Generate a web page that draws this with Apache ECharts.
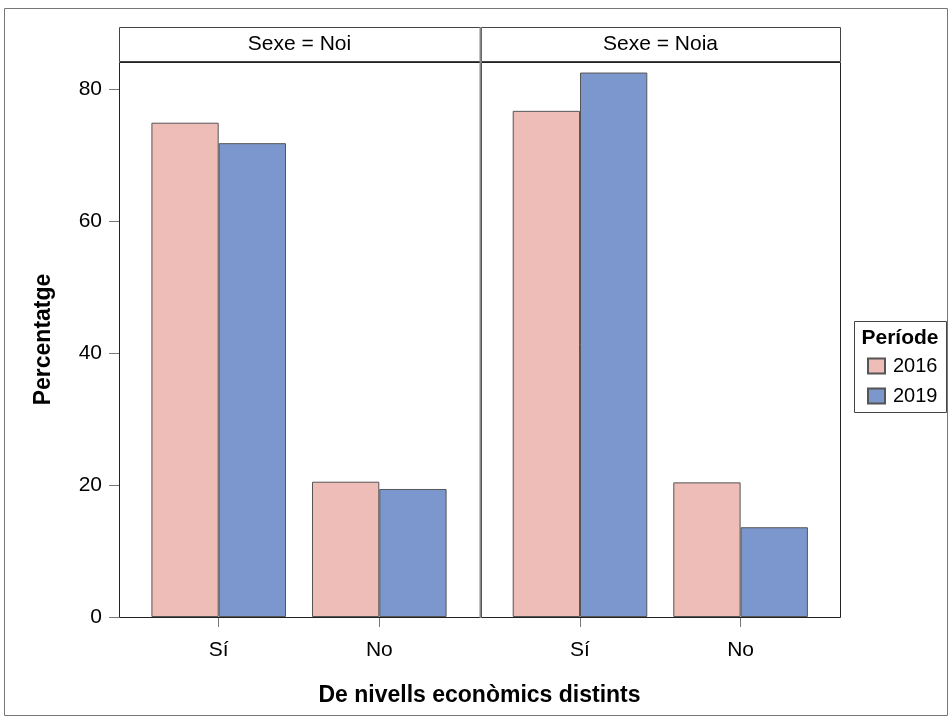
<!DOCTYPE html>
<html>
<head>
<meta charset="utf-8">
<script src="https://cdn.jsdelivr.net/npm/echarts@6/dist/echarts.min.js"></script>
<style>
html,body{margin:0;padding:0;background:#fff;}
#chart{width:952px;height:720px;}
</style>
</head>
<body>
<div id="chart"></div>
<script>
// ---- data ----
const categories = ['Sí', 'No'];
const panels = ['Sexe = Noi', 'Sexe = Noia'];
const periods = ['2016', '2019'];
const noi2016 = [74.9, 20.5];
const noi2019 = [71.8, 19.4];
const noia2016 = [76.7, 20.4];
const noia2019 = [82.5, 13.6];
const yTicks = [0, 20, 40, 60, 80];

const FONT = '"Liberation Sans", Arial, sans-serif';
const PINK = '#EFBDB7';
const BLUE = '#7C97CD';
const BORDER = '#555555';

// layout
const panelTop = 62, panelBottom = 617;
const panelL = [119, 481], panelR = [480, 840];
const dataL = [138.4, 499.7], dataW = 321.2;
const yMax = 84.1;

const chart = echarts.init(document.getElementById('chart'), null, {renderer: 'canvas'});

function xAxisCfg(i) {
  return {
    type: 'category', gridIndex: i, data: categories,
    axisLine: {show: false},
    axisTick: {show: true, alignWithLabel: true, length: 10, lineStyle: {color: '#777', width: 1}},
    axisLabel: {color: '#000', fontSize: 21, fontFamily: FONT, margin: 23}
  };
}
function yAxisCfg(i) {
  return {
    type: 'value', gridIndex: i, min: 0, max: yMax, interval: 20,
    show: i === 0,
    offset: 19.4,
    splitLine: {show: false},
    axisLine: {show: false},
    axisTick: {show: true, length: 10, customValues: yTicks, lineStyle: {color: '#777', width: 1}},
    axisLabel: {color: '#000', fontSize: 21, fontFamily: FONT, margin: 17, customValues: yTicks},
    name: i === 0 ? 'Percentatge' : '',
    nameLocation: 'middle', nameGap: 64,
    nameTextStyle: {color: '#000', fontSize: 23, fontWeight: 'bold', fontFamily: FONT}
  };
}
function barSeries(name, data, i, color) {
  return {
    name: name, type: 'bar', xAxisIndex: i, yAxisIndex: i, data: data,
    barGap: '0%', barCategoryGap: '16.2%',
    itemStyle: {color: color, borderColor: BORDER, borderWidth: 1},
    emphasis: {disabled: true}
  };
}

const graphics = [];
// outer border
graphics.push({type: 'rect', shape: {x: 4.5, y: 8.5, width: 943, height: 707},
  style: {fill: 'none', stroke: '#777', lineWidth: 1}, z: 0});
for (let i = 0; i < 2; i++) {
  graphics.push({type: 'rect', shape: {x: panelL[i] + 0.5, y: 27.5, width: panelR[i] - panelL[i], height: 34},
    style: {fill: '#fff', stroke: '#444', lineWidth: 1}, z: 1});
  graphics.push({type: 'text', x: (panelL[i] + panelR[i]) / 2, y: 44.5,
    style: {text: panels[i], fill: '#000', font: '21px ' + FONT, textAlign: 'center', textVerticalAlign: 'middle'}, z: 2});
  graphics.push({type: 'rect', shape: {x: panelL[i] + 0.5, y: panelTop + 0.5, width: panelR[i] - panelL[i], height: panelBottom - panelTop},
    style: {fill: 'none', stroke: '#222', lineWidth: 1}, z: 10});
}
graphics.push({type: 'line', shape: {x1: 480.5, y1: 27, x2: 480.5, y2: 618},
  style: {stroke: '#888', lineWidth: 2}, z: 11});
// x title
graphics.push({type: 'text', x: 479.5, y: 696,
  style: {text: 'De nivells econòmics distints', fill: '#000', font: 'bold 23px ' + FONT, textAlign: 'center', textVerticalAlign: 'middle'}, z: 2});
// legend box and title
graphics.push({type: 'rect', shape: {x: 854.5, y: 321.5, width: 92, height: 91},
  style: {fill: '#fff', stroke: '#444', lineWidth: 1}, z: 1});
graphics.push({type: 'text', x: 900, y: 338,
  style: {text: 'Període', fill: '#000', font: 'bold 21px ' + FONT, textAlign: 'center', textVerticalAlign: 'middle'}, z: 2});

chart.setOption({
  animation: false,
  backgroundColor: '#fff',
  grid: [
    {left: dataL[0], width: dataW, top: panelTop, height: panelBottom - panelTop},
    {left: dataL[1], width: dataW, top: panelTop, height: panelBottom - panelTop}
  ],
  xAxis: [xAxisCfg(0), xAxisCfg(1)],
  yAxis: [yAxisCfg(0), yAxisCfg(1)],
  legend: {
    data: periods, orient: 'vertical', left: 862, top: 351,
    itemWidth: 17, itemHeight: 15, itemGap: 10, icon: 'rect',
    textStyle: {color: '#000', fontSize: 20, lineHeight: 20, fontFamily: FONT, padding: [0, 0, 0, 3]},
    selectedMode: false, z: 5
  },
  graphic: graphics,
  series: [
    barSeries(periods[0], noi2016, 0, PINK),
    barSeries(periods[1], noi2019, 0, BLUE),
    barSeries(periods[0], noia2016, 1, PINK),
    barSeries(periods[1], noia2019, 1, BLUE)
  ]
});
</script>
</body>
</html>
